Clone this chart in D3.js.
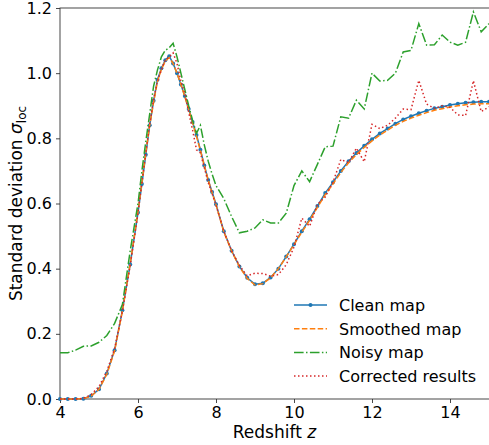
<!DOCTYPE html>
<html>
<head>
<meta charset="utf-8">
<script src="https://cdn.jsdelivr.net/npm/d3@7/dist/d3.min.js"></script>
<style>
  body { margin: 0; background: #fff; }
  #chart { width: 489px; height: 445px; }
  text { font-family: "DejaVu Sans", sans-serif; }
</style>
</head>
<body>
<div id="chart"></div>
<script>
// redshift samples (denser around the peak)
var redshift = [4.0, 4.2, 4.4, 4.6, 4.8, 5.0, 5.2, 5.4, 5.6, 5.8,
    6.0, 6.1, 6.2, 6.3, 6.4, 6.5, 6.6, 6.7, 6.8, 6.9, 7.0, 7.1, 7.2, 7.3, 7.4, 7.5, 7.6, 7.7, 7.8, 7.9, 8.0,
    8.2, 8.4, 8.6, 8.8, 9.0, 9.2, 9.4, 9.6, 9.8, 10.0,
    10.2, 10.4, 10.6, 10.8, 11.0, 11.2, 11.4, 11.6, 11.8, 12.0, 12.2, 12.4, 12.6, 12.8, 13.0,
    13.2, 13.4, 13.6, 13.8, 14.0, 14.2, 14.4, 14.6, 14.8, 15.0];

var cleanMap = [0, 0, 0, 0.001, 0.01, 0.03, 0.078, 0.15, 0.272, 0.413,
    0.572, 0.66, 0.75, 0.84, 0.915, 0.98, 1.015, 1.04, 1.052, 1.03, 1.0, 0.965, 0.93, 0.89, 0.85, 0.81, 0.765, 0.717, 0.672, 0.635, 0.598,
    0.515, 0.455, 0.407, 0.372, 0.352, 0.355, 0.373, 0.4, 0.437, 0.475,
    0.515, 0.552, 0.592, 0.632, 0.665, 0.70, 0.73, 0.755, 0.777, 0.797, 0.815, 0.83, 0.845, 0.858, 0.868,
    0.877, 0.885, 0.892, 0.897, 0.902, 0.906, 0.909, 0.911, 0.912, 0.912];

var smoothedMap = [0, 0, 0, 0.001, 0.009, 0.03, 0.076, 0.148, 0.27, 0.415,
    0.575, 0.665, 0.755, 0.84, 0.91, 0.975, 1.012, 1.037, 1.048, 1.03, 1.0, 0.965, 0.928, 0.888, 0.848, 0.806, 0.763, 0.716, 0.672, 0.633, 0.596,
    0.513, 0.454, 0.406, 0.37, 0.35, 0.354, 0.372, 0.4, 0.436, 0.474,
    0.512, 0.548, 0.588, 0.627, 0.66, 0.695, 0.725, 0.75, 0.772, 0.792, 0.81, 0.825, 0.84, 0.852, 0.862,
    0.871, 0.879, 0.886, 0.891, 0.896, 0.9, 0.903, 0.905, 0.906, 0.906];

var noisyMap = [0.142, 0.142, 0.15, 0.162, 0.163, 0.174, 0.195, 0.232, 0.29, 0.455,
    0.6, 0.7, 0.79, 0.875, 0.96, 1.01, 1.05, 1.07, 1.078, 1.092, 1.05, 1.0, 0.95, 0.9, 0.855, 0.815, 0.84, 0.78, 0.73, 0.69, 0.655,
    0.615, 0.56, 0.51, 0.515, 0.525, 0.55, 0.54, 0.54, 0.57, 0.655,
    0.70, 0.667, 0.72, 0.774, 0.776, 0.866, 0.862, 0.917, 0.89, 1.0, 0.976, 0.978, 1.0, 1.065, 1.07,
    1.152, 1.086, 1.087, 1.117, 1.095, 1.086, 1.095, 1.188, 1.127, 1.152];

var correctedResults = [0, 0, 0, 0.002, 0.014, 0.038, 0.085, 0.155, 0.27, 0.41,
    0.57, 0.665, 0.755, 0.845, 0.92, 0.975, 1.01, 1.04, 1.05, 1.062, 1.03, 0.975, 0.94, 0.88, 0.825, 0.765, 0.755, 0.71, 0.665, 0.63, 0.595,
    0.515, 0.455, 0.41, 0.378, 0.386, 0.385, 0.377, 0.382, 0.412, 0.466,
    0.555, 0.53, 0.598, 0.62, 0.665, 0.735, 0.725, 0.77, 0.728, 0.843, 0.83, 0.84, 0.862, 0.89, 0.888,
    0.978, 0.905, 0.892, 0.9, 0.895, 0.872, 0.87, 0.977, 0.882, 0.897];

var xTicks = [4, 6, 8, 10, 12, 14];
var yTicks = [0.0, 0.2, 0.4, 0.6, 0.8, 1.0, 1.2];

var seriesNames = ['Clean map', 'Smoothed map', 'Noisy map', 'Corrected results'];

var svgWidth = 489, svgHeight = 445;
var margin = {top: 8, right: 0, bottom: 46, left: 60};
var plotW = svgWidth - margin.left - margin.right;
var plotH = svgHeight - margin.top - margin.bottom;

var svg = d3.select('#chart')
    .append('svg')
    .attr('width', svgWidth)
    .attr('height', svgHeight);

var g = svg.append('g')
    .attr('transform', 'translate(' + margin.left + ',' + margin.top + ')');

var xScale = d3.scaleLinear().domain([4, 15]).range([0, plotW]);
var yScale = d3.scaleLinear().domain([0, 1.2]).range([plotH, 0]);

// axes
var xAxis = d3.axisBottom(xScale).tickValues(xTicks).tickSize(4).tickPadding(4)
    .tickFormat(d3.format('d'));
var yAxis = d3.axisLeft(yScale).tickValues(yTicks).tickSize(4).tickPadding(4)
    .tickFormat(d3.format('.1f'));

var gx = g.append('g').attr('transform', 'translate(0,' + plotH + ')').call(xAxis);
var gy = g.append('g').call(yAxis);
[gx, gy].forEach(function (ax) {
    ax.select('.domain').remove();
    ax.selectAll('line').attr('stroke', '#333').attr('stroke-width', 0.9);
    ax.selectAll('text').style('font-size', '16px').attr('fill', '#000');
});

// frame
g.append('rect')
    .attr('x', 0).attr('y', 0)
    .attr('width', plotW + 1).attr('height', plotH)
    .attr('fill', 'none')
    .attr('stroke', '#333')
    .attr('stroke-width', 0.9);

var line = d3.line()
    .x(function (d) { return xScale(d[0]); })
    .y(function (d) { return yScale(d[1]); });

var styles = [
    {data: cleanMap, color: '#1f77b4', dash: null},
    {data: smoothedMap, color: '#ff7f0e', dash: '5.5,2.4'},
    {data: noisyMap, color: '#2ca02c', dash: '9.6,2.4,1.5,2.4'},
    {data: correctedResults, color: '#d62728', dash: '1.5,2.5'}
];

styles.forEach(function (s, k) {
    g.append('path')
        .attr('d', line(d3.zip(redshift, s.data)))
        .attr('fill', 'none')
        .attr('stroke', s.color)
        .attr('stroke-width', 1.5)
        .attr('stroke-dasharray', s.dash);
    if (k === 0) {
        g.append('g').selectAll('circle')
            .data(d3.zip(redshift, s.data))
            .enter()
            .append('circle')
            .attr('cx', function (d) { return xScale(d[0]); })
            .attr('cy', function (d) { return yScale(d[1]); })
            .attr('r', 2)
            .attr('fill', s.color);
    }
});

// legend
var legend = svg.append('g').attr('transform', 'translate(294,305)');
styles.forEach(function (s, i) {
    var row = legend.append('g').attr('transform', 'translate(0,' + (i * 23.7) + ')');
    row.append('line')
        .attr('x1', 0).attr('x2', 33).attr('y1', 0).attr('y2', 0)
        .attr('stroke', s.color)
        .attr('stroke-width', 1.5)
        .attr('stroke-dasharray', s.dash);
    if (i === 0) {
        row.append('circle').attr('cx', 16.5).attr('cy', 0).attr('r', 2).attr('fill', s.color);
    }
    row.append('text')
        .attr('x', 45).attr('y', 6)
        .style('font-size', '16px')
        .text(seriesNames[i]);
});

// axis labels
var xl = svg.append('text')
    .attr('x', margin.left + plotW / 2)
    .attr('y', 438)
    .attr('text-anchor', 'middle')
    .style('font-size', '17px');
xl.append('tspan').text('Redshift ');
xl.append('tspan').style('font-style', 'italic').text('z');

var yl = svg.append('text')
    .attr('transform', 'translate(22,' + (margin.top + plotH / 2) + ') rotate(-90)')
    .attr('text-anchor', 'middle')
    .style('font-size', '17px');
yl.append('tspan').text('Standard deviation ');
yl.append('tspan').style('font-style', 'italic').text('σ');
yl.append('tspan').attr('dy', 4).style('font-size', '12px').text('loc');
</script>
</body>
</html>
